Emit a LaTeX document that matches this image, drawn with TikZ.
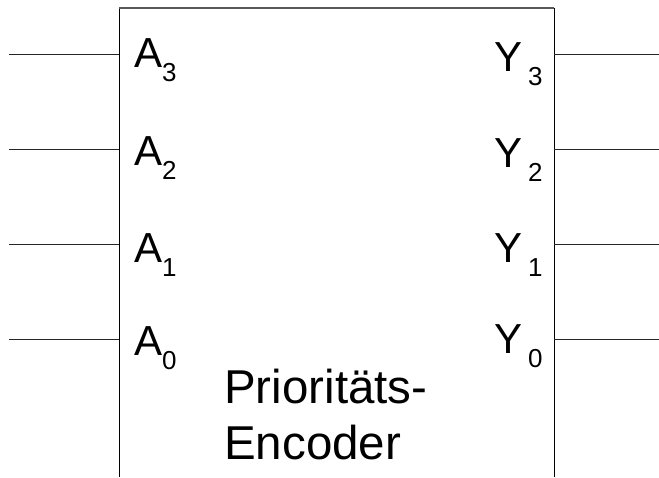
\documentclass[tikz,border=0pt]{standalone}
\usepackage{fontspec}
\setmainfont{Liberation Sans}
\begin{document}
\begin{tikzpicture}[x=1pt,y=-1pt,
  lbl/.style={anchor=base west,inner sep=0pt,font=\fontsize{42}{48}\selectfont},
  big/.style={anchor=base west,inner sep=0pt,font=\fontsize{47.5}{54}\selectfont},
  wire/.style={line width=1pt,black!85},
  edge/.style={line width=1pt,black}]
\useasboundingbox (0,0) rectangle (659,477);
\newcommand{\subd}[1]{\raisebox{-14pt}{\fontsize{26}{26}\selectfont #1}}
% box
\coordinate (bl) at (119,477);
\coordinate (tl) at (119,8);
\coordinate (tr) at (554,8);
\coordinate (br) at (554,477);
\draw[edge] (bl) -- (tl);
\draw[edge] (tr) -- (br);
\draw[line width=2pt,black!65] (tl) -- (tr);
% input pins
\foreach \i/\y in {3/54,2/149,1/244,0/339}{
  \coordinate (ain\i) at (9,\y);
  \coordinate (abox\i) at (119,\y);
  \draw[wire] (ain\i) -- (abox\i);
}
% output pins
\foreach \i/\y in {3/54,2/149,1/244,0/339}{
  \coordinate (ybox\i) at (554,\y);
  \coordinate (yout\i) at (659,\y);
  \draw[wire] (ybox\i) -- (yout\i);
}
% labels
\node[lbl] (a3) at (134,67) {A\subd{3}};
\node[lbl] (a2) at (134,165) {A\subd{2}};
\node[lbl] (a1) at (134,262) {A\subd{1}};
\node[lbl] (a0) at (134,355) {A\subd{0}};
\node[lbl] (y3) at (494,71) {Y\hspace{6pt}\subd{3}};
\node[lbl] (y2) at (494,167) {Y\hspace{6pt}\subd{2}};
\node[lbl] (y1) at (494,262) {Y\hspace{6pt}\subd{1}};
\node[lbl] (y0) at (494,353) {Y\hspace{6pt}\subd{0}};
\node[big] (t1) at (224,403) {Prioritäts-};
\node[big] (t2) at (224,459) {Encoder};
\end{tikzpicture}
\end{document}
